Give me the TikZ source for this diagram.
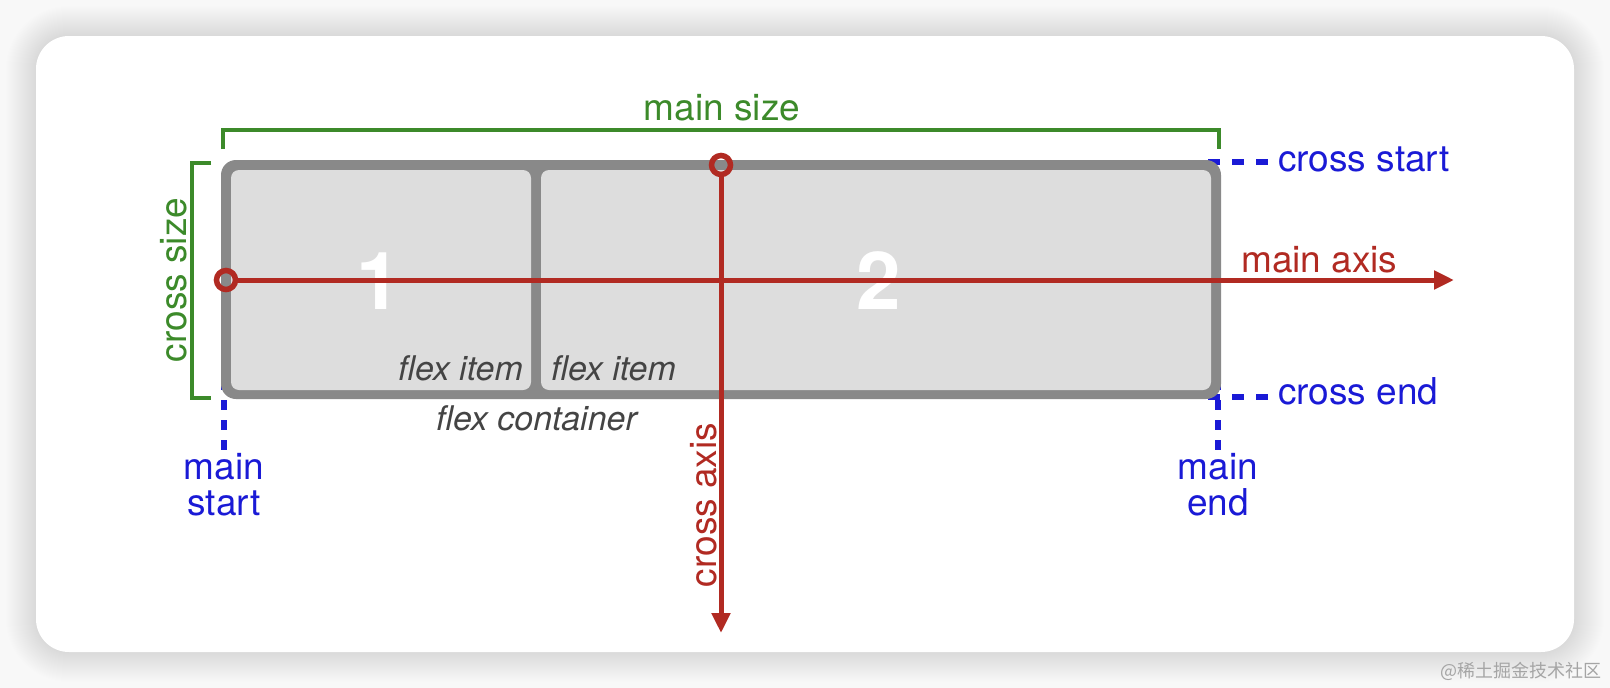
\documentclass[tikz,border=0pt]{standalone}
\usepackage{fontspec}
\setmainfont{TeX Gyre Heros}
\newfontfamily\cjkfont{Noto Sans CJK SC}
\usetikzlibrary{arrows.meta}
\definecolor{bgc}{HTML}{F8F8F8}
\definecolor{contgray}{HTML}{898989}
\definecolor{itemgray}{HTML}{DDDDDD}
\definecolor{axisred}{HTML}{B12A22}
\definecolor{guideblue}{HTML}{1A1AD6}
\definecolor{sizegreen}{HTML}{3C8A2A}
\definecolor{labelgray}{HTML}{444444}
\definecolor{wmgray}{HTML}{A5A5A5}
\newcommand\labfont{\fontsize{37pt}{36pt}\selectfont}
\newcommand\itemfont{\fontsize{34pt}{34pt}\selectfont\itshape}
\newcommand\numfont{\fontsize{80pt}{80pt}\selectfont\bfseries}
\tikzset{
  guide/.style={guideblue, line width=6pt},
  bracket/.style={sizegreen, line width=4pt},
  axisline/.style={axisred, line width=5pt, -{Triangle[length=20pt,width=18pt]}},
  ring/.style={circle, draw=axisred, line width=5.5pt, minimum size=19pt, inner sep=0pt},
  bluelab/.style={text=guideblue, font=\labfont, inner sep=0pt},
  redlab/.style={text=axisred, font=\labfont, inner sep=0pt},
  greenlab/.style={text=sizegreen, font=\labfont, inner sep=0pt},
  itemlab/.style={text=labelgray, font=\itemfont, inner sep=0pt},
  numlab/.style={text=white, font=\numfont, inner sep=0pt}
}
\begin{document}
\begin{tikzpicture}[x=1pt,y=-1pt]
\useasboundingbox (0,0) rectangle (1610,688);
\fill[bgc] (0,0) rectangle (1610,688);
\foreach \k in {1,...,30}{
  \fill[black,opacity=0.004,rounded corners={(33+\k)*1pt}] (36-\k,36-\k) rectangle (1574+\k,652+\k);
}
\fill[white,rounded corners=33pt] (36,36) rectangle (1574,652);

% blue guide lines (behind container)
\coordinate (csA) at (1208,162);
\coordinate (csB) at (1268,162);
\coordinate (ceA) at (1208,397);
\coordinate (ceB) at (1268,397);
\coordinate (msA) at (224,380);
\coordinate (msB) at (224,450);
\coordinate (meA) at (1218,380);
\coordinate (meB) at (1218,450);
\draw[guide, dash pattern=on 12pt off 12pt] (csA) -- (csB);
\draw[guide, dash pattern=on 12pt off 12pt] (ceA) -- (ceB);
\draw[guide, dash pattern=on 10pt off 10pt] (msA) -- (msB);
\draw[guide, dash pattern=on 10pt off 10pt] (meA) -- (meB);

% container and items
\fill[contgray, rounded corners=15pt] (221,160) rectangle (1221,399);
\fill[itemgray, rounded corners=8pt] (231,170) rectangle (531,390);
\fill[itemgray, rounded corners=8pt] (541,170) rectangle (1211,390);

% green brackets
\draw[bracket] (223,149) -- (223,130) -- (1219,130) -- (1219,149);
\draw[bracket] (211,163) -- (192,163) -- (192,397.5) -- (211,397.5);

% numbers
\node[numlab] (one) at (379,281) {1};
\node[numlab] (two) at (879,281) {2};

% axes
\node[ring] (mainstart) at (226,280) {};
\coordinate (mainend) at (1454,280);
\draw[axisline] (mainstart) -- (mainend);
\node[ring] (crossstart) at (721,165) {};
\coordinate (crossend) at (721,633);
\draw[axisline] (crossstart) -- (crossend);

% labels
\node[greenlab, anchor=base] (mainsize) at (722,120) {main size};
\node[greenlab, rotate=90] (crosssize) at (173.5,280) {cross size};
\node[redlab, anchor=base west] (mainaxis) at (1241,272) {main axis};
\node[redlab, rotate=90] (crossaxis) at (704,505) {cross axis};
\node[bluelab, anchor=base west] (crossstartlab) at (1278,171) {cross start};
\node[bluelab, anchor=base west] (crossendlab) at (1278,404) {cross end};
\node[bluelab, align=center, anchor=base] (mainstartlab) at (224,515) {main\\start};
\node[bluelab, align=center, anchor=base] (mainendlab) at (1218,515) {main\\end};
\node[itemlab, anchor=base east] (item1) at (523,380) {flex item};
\node[itemlab, anchor=base west] (item2) at (551,380) {flex item};
\node[itemlab, anchor=base west] (contlab) at (436,430) {flex container};
\node[text=wmgray, font=\fontsize{18pt}{18pt}\selectfont\cjkfont, anchor=base east, inner sep=0pt] (wm) at (1602,677) {@稀土掘金技术社区};
\end{tikzpicture}
\end{document}
